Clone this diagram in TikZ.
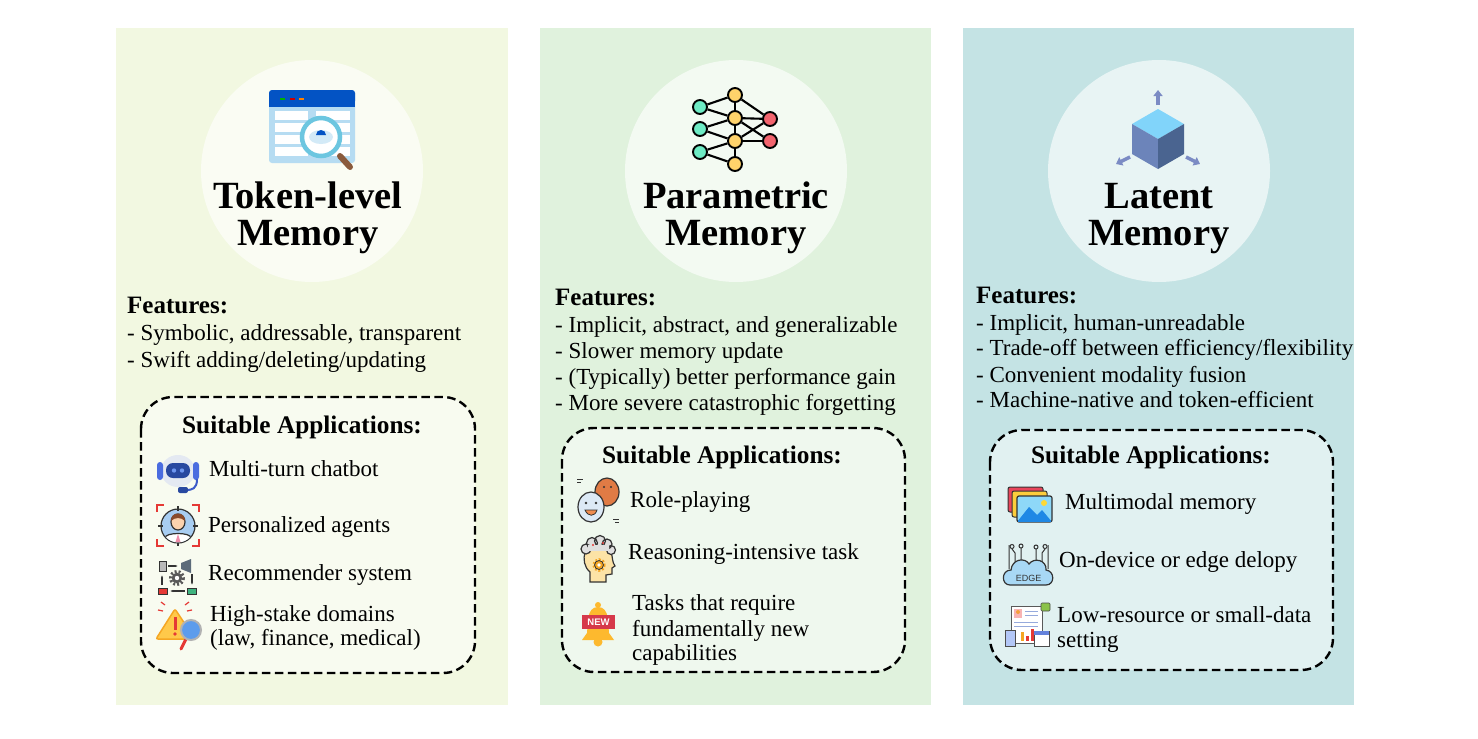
\documentclass[tikz,border=0pt]{standalone}
\usepackage{fontspec}
\setmainfont{Liberation Serif}
\newfontfamily\iconfont{Liberation Sans}
\usetikzlibrary{arrows.meta,shapes.geometric}
\definecolor{panA}{HTML}{F2F8E1}
\definecolor{panB}{HTML}{E0F2DD}
\definecolor{panC}{HTML}{C4E3E4}
\definecolor{winblue}{HTML}{0353C4}
\definecolor{cellblue}{HTML}{B6DCF2}
\definecolor{ringblue}{HTML}{6CC6E0}
\definecolor{handle}{HTML}{8A5A3C}
\definecolor{mint}{HTML}{6EEBC4}
\definecolor{yell}{HTML}{FFD36B}
\definecolor{redn}{HTML}{F2646E}
\definecolor{cubetop}{HTML}{81D4FA}
\definecolor{cubeleft}{HTML}{6C84BA}
\definecolor{cuberight}{HTML}{4A6490}
\definecolor{cubearrow}{HTML}{7B8BC4}
\definecolor{outl}{HTML}{333333}
\definecolor{botbody}{HTML}{E4E9F2}
\definecolor{botear}{HTML}{4A6CE0}
\definecolor{botvisor}{HTML}{2848A0}
\definecolor{boteye}{HTML}{6E96F0}
\definecolor{botmic}{HTML}{3C5AC8}
\definecolor{redx}{HTML}{E53935}
\definecolor{agentblue}{HTML}{A8CDF2}
\definecolor{shirtpink}{HTML}{F08CAA}
\definecolor{skin}{HTML}{FBD2AE}
\definecolor{hair}{HTML}{8A4B2C}
\definecolor{megaphone}{HTML}{5C6B7A}
\definecolor{greenx}{HTML}{3FB37F}
\definecolor{warnyel}{HTML}{FFC94A}
\definecolor{warnorg}{HTML}{F5A623}
\definecolor{magblue}{HTML}{5D9CEC}
\definecolor{maskorg}{HTML}{E07B45}
\definecolor{maskblue}{HTML}{DCE9F6}
\definecolor{mouth}{HTML}{F08C50}
\definecolor{headyel}{HTML}{FCE3A6}
\definecolor{bellyel}{HTML}{FDB92E}
\definecolor{newred}{HTML}{D6394A}
\definecolor{mmred}{HTML}{E8455B}
\definecolor{mmyel}{HTML}{FDCD3C}
\definecolor{sky}{HTML}{8ED8F8}
\definecolor{mount}{HTML}{1E88E5}
\definecolor{sun}{HTML}{FDD835}
\definecolor{cloudc}{HTML}{A8D8F5}
\definecolor{photo}{HTML}{F8B4B4}
\definecolor{photop}{HTML}{F5A03C}
\definecolor{linesb}{HTML}{96AADC}
\definecolor{notegreen}{HTML}{8BC34A}
\definecolor{calc}{HTML}{B3C7F7}
\definecolor{calbar}{HTML}{6482DC}
\begin{document}
\begin{tikzpicture}[x=1pt,y=-1pt,
  halo/.style={fill=white, fill opacity=0.62, draw=none},
  appbox/.style={draw=black, line width=2.4pt, dash pattern=on 8.5pt off 4.5pt, rounded corners=32pt, fill=white, fill opacity=0.5},
  ttl/.style={font=\fontsize{38.5}{38.5}\selectfont\bfseries, anchor=base, inner sep=0pt},
  headw/.style={font=\fontsize{25}{25}\selectfont\bfseries, anchor=base west, inner sep=0pt},
  headc/.style={font=\fontsize{25.3}{25.3}\selectfont\bfseries, anchor=base, inner sep=0pt},
  txt/.style={font=\fontsize{23}{23}\selectfont, anchor=base west, inner sep=0pt},
  nn/.style={circle, draw=black, line width=1.9pt, minimum size=14pt, inner sep=0pt},
  nedge/.style={draw=black, line width=2.1pt},
  carrow/.style={draw=cubearrow, line width=3.5pt, -{Triangle[width=9pt,length=6pt]}},
  ol/.style={draw=outl, line width=1.2pt},
]
\useasboundingbox (0,0) rectangle (1478,739);
\fill[white] (0,0) rectangle (1478,739);

% ---------- panels ----------
\fill[panA] (116,28) rectangle (508,705);
\fill[panB] (540,28) rectangle (931,705);
\fill[panC] (963,28) rectangle (1354,705);

\fill[halo] (312,171) circle (111);
\fill[halo] (736,171) circle (111);
\fill[halo] (1159,171) circle (111);

% ---------- panel 1 top icon: browser + magnifier ----------
\fill[cellblue, rounded corners=3pt] (269,90) rectangle (355,163);
\fill[winblue, rounded corners=3pt] (269,90) rectangle (355,104);
\fill[winblue] (269,100) rectangle (355,107);
\draw[green!70!black, line width=1.6pt] (280,99) -- (285,99);
\draw[red!80!black, line width=1.6pt] (290,99) -- (295,99);
\draw[orange, line width=1.6pt] (299,99) -- (304,99);
\foreach \yy in {111,123,135,147}{
  \fill[white] (275,\yy) rectangle (308,\yy+9);
  \fill[white] (316,\yy) rectangle (350,\yy+9);
}
\draw[handle, line width=6pt, line cap=round] (340,156) -- (350,167);
\filldraw[fill=white, draw=ringblue, line width=4.5pt] (321,137) circle (19);
\fill[cellblue!60] (321,137) ellipse [x radius=12, y radius=7];
\fill[winblue] (316,135) -- (326,135) arc[start angle=0, end angle=-180, x radius=5, y radius=5] -- cycle;

% ---------- panel 2 top icon: network ----------
\node[nn, fill=mint] (i1) at (700,107) {};
\node[nn, fill=mint] (i2) at (700,129) {};
\node[nn, fill=mint] (i3) at (700,152) {};
\node[nn, fill=yell] (h1) at (735,95) {};
\node[nn, fill=yell] (h2) at (735,118) {};
\node[nn, fill=yell] (h3) at (735,141) {};
\node[nn, fill=yell] (h4) at (735,164) {};
\node[nn, fill=redn] (o1) at (770,119) {};
\node[nn, fill=redn] (o2) at (770,141) {};
\foreach \a/\b in {i1/h1,i1/h2,i2/h2,i2/h3,i3/h3,i3/h4,h1/h2,h2/h3,h3/h4,h1/o1,h2/o1,h2/o2,h3/o1,h3/o2}
  \draw[nedge] (\a) -- (\b);

% ---------- panel 3 top icon: cube ----------
\fill[cubetop] (1158,109) -- (1184,124) -- (1158,139) -- (1132,124) -- cycle;
\fill[cubeleft] (1132,124) -- (1158,139) -- (1158,169) -- (1132,154) -- cycle;
\fill[cuberight] (1158,139) -- (1184,124) -- (1184,154) -- (1158,169) -- cycle;
\coordinate (cu0) at (1158,105); \coordinate (cu1) at (1158,90);
\coordinate (cl0) at (1130,157); \coordinate (cl1) at (1116,164);
\coordinate (cr0) at (1186,157); \coordinate (cr1) at (1200,164);
\draw[carrow] (cu0) -- (cu1);
\draw[carrow] (cl0) -- (cl1);
\draw[carrow] (cr0) -- (cr1);

% ---------- titles ----------
\node[ttl] (t1a) at (308,208) {Token-level};
\node[ttl] (t1b) at (308,245) {Memory};
\node[ttl] (t2a) at (736,208) {Parametric};
\node[ttl] (t2b) at (736,245) {Memory};
\node[ttl] (t3a) at (1159,208) {Latent};
\node[ttl] (t3b) at (1159,245) {Memory};

% ---------- features ----------
\node[headw] (f1h) at (127,313) {Features:};
\node[txt] (f1a) at (127,340) {- Symbolic, addressable, transparent};
\node[txt] (f1b) at (127,367) {- Swift adding/deleting/updating};

\node[headw] (f2h) at (555,305) {Features:};
\node[txt] (f2a) at (555,332) {- Implicit, abstract, and generalizable};
\node[txt] (f2b) at (555,358) {- Slower memory update};
\node[txt] (f2c) at (555,384) {- (Typically) better performance gain};
\node[txt] (f2d) at (555,410) {- More severe catastrophic forgetting};

\node[headw] (f3h) at (976,303) {Features:};
\node[txt] (f3a) at (976,330) {- Implicit, human-unreadable};
\node[txt] (f3b) at (976,355) {- Trade-off between efficiency/flexibility};
\node[txt] (f3c) at (976,382) {- Convenient modality fusion};
\node[txt] (f3d) at (976,407) {- Machine-native and token-efficient};

% ---------- application boxes ----------
\path[appbox] (141,397) rectangle (475,673);
\path[appbox] (562,428) rectangle (905,672);
\path[appbox] (990,430) rectangle (1333,670);

\node[headc] (s1) at (302,433) {Suitable Applications:};
\node[headc] (s2) at (722,463) {Suitable Applications:};
\node[headc] (s3) at (1151,463) {Suitable Applications:};

% panel 1 items
\node[txt] (a1) at (209,476) {Multi-turn chatbot};
\node[txt] (a2) at (208,532) {Personalized agents};
\node[txt] (a3) at (208,580) {Recommender system};
\node[txt] (a4a) at (210,621) {High-stake domains};
\node[txt] (a4b) at (210,645) {(law, finance, medical)};

% panel 2 items
\node[txt] (b1) at (630,507) {Role-playing};
\node[txt] (b2) at (628,559) {Reasoning-intensive task};
\node[txt] (b3a) at (632,610) {Tasks that require};
\node[txt] (b3b) at (632,636) {fundamentally new};
\node[txt] (b3c) at (632,660) {capabilities};

% panel 3 items
\node[txt] (c1) at (1065,509) {Multimodal memory};
\node[txt] (c2) at (1059,567) {On-device or edge delopy};
\node[txt] (c3a) at (1057,622) {Low-resource or small-data};
\node[txt] (c3b) at (1057,647) {setting};

% ---------- icon: chatbot ----------
\fill[botbody] (178,471) ellipse [x radius=17, y radius=16];
\fill[botear, rounded corners=3pt] (157,462) rectangle (163,480);
\fill[botear, rounded corners=3pt] (193,462) rectangle (199,480);
\fill[botvisor, rounded corners=7pt] (166,463) rectangle (190,478);
\fill[boteye] (174,470.5) circle (2.2);
\fill[boteye] (182,470.5) circle (2.2);
\draw[botmic, line width=2pt] (197,479) .. controls (197,489) and (192,490) .. (186,490);
\fill[botvisor, rounded corners=2pt] (178,487) rectangle (188,493);

% ---------- icon: personalized agent ----------
\draw[redx, line width=2.2pt]
  (157,512) -- (157,505) -- (164,505)
  (192,505) -- (199,505) -- (199,512)
  (199,539) -- (199,546) -- (192,546)
  (164,546) -- (157,546) -- (157,539);
\filldraw[fill=agentblue, ol] (178,526) circle (17);
\draw[ol] (178,506) -- (178,511) (178,541) -- (178,546) (158,526) -- (163,526) (193,526) -- (198,526);
\begin{scope}
  \clip (178,526) circle (16.4);
  \filldraw[fill=white, ol] (165,544) -- (165,538) .. controls (165,532) and (191,532) .. (191,538) -- (191,544) -- cycle;
  \fill[shirtpink] (178,534) -- (180.5,542) -- (175.5,542) -- cycle;
\end{scope}
\filldraw[fill=skin, ol] (178,522) ellipse [x radius=7, y radius=8];
\fill[hair] (171,521) .. controls (170,511) and (186,511) .. (185,521) .. controls (181,517) and (175,517) .. cycle;

% ---------- icon: recommender ----------
\filldraw[fill=gray!55, draw=outl, line width=0.8pt] (159,561) rectangle (166,571);
\draw[outl, line width=1.5pt, -{Latex[length=3pt]}] (168,566) -- (178,566);
\fill[megaphone] (181,563) -- (191,559) -- (191,573) -- (181,569) -- cycle;
\draw[outl, line width=1.5pt, -{Latex[length=3pt]}] (162,585) -- (162,575);
\draw[gray!70!black, line width=3pt, dash pattern=on 2pt off 2pt] (177,578) circle (6.5);
\fill[gray!70!black] (177,578) circle (5.3);
\fill[white] (177,578) circle (2.2);
\draw[outl, line width=1.5pt, -{Latex[length=3pt]}] (192,574) -- (192,585);
\filldraw[fill=redx, draw=outl, line width=0.8pt] (158,588) rectangle (167,594);
\draw[outl, line width=1.5pt, -{Latex[length=3pt]}] (185,591) -- (170,591);
\filldraw[fill=greenx, draw=outl, line width=0.8pt] (187,588) rectangle (196,594);

% ---------- icon: warning + magnifier ----------
\draw[redx, line width=1.2pt] (165,605) -- (161,602) (185,605) -- (189,602) (163,611) -- (158,610) (187,611) -- (192,610);
\filldraw[fill=warnyel, draw=warnorg, line width=1.5pt, rounded corners=2pt] (175,609) -- (195,639) -- (156,639) -- cycle;
\fill[redx] (173.5,617) rectangle (176.5,630);
\fill[redx] (175,634) circle (1.8);
\draw[redx, line width=3pt, line cap=round] (186,639) -- (181,649);
\filldraw[fill=magblue, draw=gray!60, line width=2pt] (191,630) circle (10);

% ---------- icon: masks ----------
\draw[outl, line width=1pt] (577,479) -- (583,479) (577,482) -- (581,482);
\draw[outl, line width=1pt] (613,519) -- (619,519) (615,522) -- (619,522);
\filldraw[fill=maskorg, ol] (607,492) ellipse [x radius=12, y radius=14];
\fill[outl] (604,487) circle (1.2) (611,487) circle (1.2);
\filldraw[fill=maskblue, ol] (591,507) ellipse [x radius=13, y radius=15];
\fill[outl] (586,503) circle (1.3) (596,503) circle (1.3);
\filldraw[fill=mouth, draw=outl, line width=0.8pt] (585,510) .. controls (588,517) and (595,517) .. (597,510) -- cycle;

% ---------- icon: reasoning head ----------
\filldraw[fill=headyel, ol]
  (590,582) -- (590,572) .. controls (584,567) and (583,559) .. (585,552) .. controls (588,544) and (606,542) .. (611,552)
  .. controls (613,558) and (612,562) .. (615,566) -- (612,568) -- (612,574) -- (606,575) -- (606,582) -- cycle;
\filldraw[fill=gray!25, ol] (586,549) circle (5) (592,543) circle (5.5) (600,541) circle (5.5) (607,544) circle (5) (611,550) circle (4.5);
\fill[gray!25] (588,545) rectangle (609,551);
\fill[redx] (593,545) circle (1.2) (603,543) circle (1.2);
\draw[warnorg, line width=2.6pt, dash pattern=on 1.8pt off 1.8pt] (599,565) circle (5.5);
\filldraw[fill=warnorg, draw=outl, line width=0.8pt] (599,565) circle (4.5);
\fill[white] (599,565) circle (1.8);

% ---------- icon: NEW bell ----------
\fill[bellyel] (598,605) circle (3);
\fill[bellyel] (598,607) .. controls (586,607) and (588,625) .. (587,633) -- (582,640) -- (614,640) -- (609,633) .. controls (608,625) and (610,607) .. (598,607) -- cycle;
\fill[bellyel] (598,642) circle (4.5);
\fill[newred] (582,615) rectangle (615,629);
\node[font=\iconfont\bfseries\fontsize{9.5}{9.5}\selectfont, text=white, inner sep=0pt] (newtag) at (598.5,622) {NEW};

% ---------- icon: multimodal ----------
\filldraw[fill=mmred, draw=outl, line width=1pt, rounded corners=2pt] (1008,487) rectangle (1043,512);
\filldraw[fill=mmyel, draw=outl, line width=1pt, rounded corners=2pt] (1012,491) rectangle (1047,517);
\filldraw[fill=sky, draw=outl, line width=1.2pt, rounded corners=2pt] (1017,496) rectangle (1052,522);
\begin{scope}
  \clip (1018,497) rectangle (1051,521);
  \fill[mount] (1017,522) -- (1029,507) -- (1037,515) -- (1042,510) -- (1052,522) -- cycle;
\end{scope}
\fill[sun] (1044,503) circle (3);

% ---------- icon: edge ----------
\draw[gray!40!black, line width=1pt]
  (1009,569) -- (1009,545) (1015,566) -- (1015,553) -- (1012,549) (1021,562) -- (1021,548)
  (1036,562) -- (1036,549) (1042,566) -- (1042,553) -- (1045,549) (1048,569) -- (1048,545);
\draw[gray!40!black, line width=1pt] (1012,546.5) circle (2) (1021,546) circle (2) (1036,547) circle (2) (1045,546.5) circle (2);
\filldraw[fill=cloudc, ol] (1010,585) .. controls (1001,585) and (1001,570) .. (1011,570) .. controls (1012,559) and (1025,557) .. (1029,564) .. controls (1034,557) and (1047,560) .. (1046,570) .. controls (1055,571) and (1055,585) .. (1046,585) -- cycle;
\node[font=\iconfont\fontsize{9}{9}\selectfont, text=outl, inner sep=0pt] (edgetag) at (1028.5,578.5) {EDGE};

% ---------- icon: report ----------
\filldraw[fill=white, draw=gray!70!black, line width=1pt] (1011,606) rectangle (1042,643);
\fill[photo] (1014,609) rectangle (1022,618);
\fill[photop] (1018,612) circle (2);
\draw[linesb, line width=1pt] (1025,611) -- (1038,611) (1025,615) -- (1038,615) (1014,622) -- (1038,622) (1014,626) -- (1038,626);
\filldraw[fill=notegreen, draw=gray!60!black, line width=0.6pt, rounded corners=1pt] (1041,603) rectangle (1050,611);
\fill[warnorg] (1021,632) rectangle (1024,641);
\fill[redx] (1026,636) rectangle (1029,641);
\fill[redx] (1031,629) rectangle (1034,641);
\filldraw[fill=calc, draw=gray!60!black, line width=0.8pt] (1005,630) rectangle (1015,646);
\filldraw[fill=white, draw=gray!60!black, line width=0.8pt] (1034,631) rectangle (1049,646);
\fill[calbar] (1034,631) rectangle (1049,635);
\end{tikzpicture}
\end{document}
